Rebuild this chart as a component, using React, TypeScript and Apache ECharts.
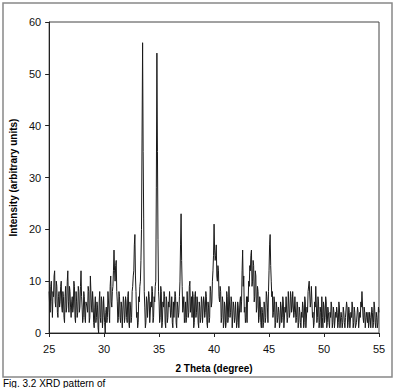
import React, { useEffect, useRef } from "react";
import * as echarts from "echarts";

// 2θ scan: 25.00° to 55.00°, step 0.05° (one line per degree)
const thetaStart = 25;
const thetaStep = 0.05;
const intensity25to30 = [
  8, 5, 4, 9, 10, 6, 3, 8, 7, 11, 12, 6, 5, 10, 9, 4, 3, 7, 8, 5,
  6, 9, 10, 5, 4, 8, 7, 3, 2, 7, 9, 4, 5, 10, 12, 6, 4, 9, 8, 5,
  3, 6, 7, 4, 5, 10, 9, 3, 2, 8, 6, 3, 4, 9, 8, 4, 5, 9, 12, 7,
  5, 2, 3, 8, 7, 3, 2, 6, 6, 5, 4, 9, 8, 2, 3, 11, 11, 5, 4, 8,
  6, 2, 1, 5, 7, 2, 3, 6, 5, 1, 0, 6, 8, 3, 2, 7, 6, 1, 3, 7,
];
const intensity30to35 = [
  7, 2, 0, 4, 5, 2, 3, 8, 8, 4, 2, 9, 11, 6, 5, 8, 9, 12, 16, 12,
  10, 13, 14, 8, 6, 2, 3, 8, 7, 3, 2, 6, 5, 1, 1, 7, 6, 2, 3, 7,
  6, 3, 2, 7, 8, 2, 1, 6, 5, 2, 3, 8, 9, 11, 12, 17, 19, 11, 8, 3,
  4, 1, 2, 7, 6, 9, 10, 14, 20, 38, 56, 35, 22, 8, 5, 1, 2, 7, 6, 3,
  3, 8, 7, 2, 2, 6, 5, 9, 8, 2, 3, 7, 6, 9, 10, 28, 54, 35, 18, 8,
];
const intensity35to40 = [
  6, 2, 3, 9, 8, 1, 2, 6, 5, 8, 7, 2, 1, 7, 6, 2, 3, 6, 5, 8,
  8, 3, 4, 7, 2, 1, 6, 3, 3, 8, 7, 2, 1, 6, 5, 3, 4, 7, 10, 17,
  23, 14, 9, 4, 5, 7, 2, 3, 6, 2, 3, 8, 8, 3, 4, 9, 10, 4, 5, 7,
  3, 8, 7, 1, 2, 7, 8, 3, 4, 7, 6, 2, 1, 6, 5, 2, 3, 7, 6, 2,
  2, 7, 6, 3, 4, 8, 7, 2, 1, 6, 5, 2, 3, 9, 8, 5, 6, 10, 12, 15,
];
const intensity40to45 = [
  21, 16, 14, 15, 17, 11, 10, 13, 12, 7, 6, 9, 8, 2, 3, 7, 6, 1, 2, 6,
  5, 1, 2, 8, 7, 2, 3, 9, 9, 3, 4, 7, 6, 1, 1, 6, 5, 2, 3, 6,
  6, 1, 2, 6, 5, 1, 1, 6, 7, 4, 6, 12, 16, 9, 11, 4, 5, 2, 3, 7,
  2, 7, 6, 10, 9, 13, 12, 15, 16, 9, 10, 14, 13, 6, 7, 12, 11, 4, 5, 9,
  8, 2, 3, 7, 6, 2, 1, 5, 4, 1, 2, 6, 5, 2, 3, 8, 7, 5, 2, 8,
];
const intensity45to50 = [
  12, 17, 19, 13, 10, 7, 8, 3, 4, 7, 6, 1, 2, 6, 5, 2, 3, 5, 4, 1,
  2, 6, 5, 2, 3, 7, 6, 1, 1, 5, 4, 7, 7, 2, 3, 8, 8, 3, 4, 8,
  7, 4, 5, 8, 8, 3, 4, 7, 7, 2, 3, 6, 5, 1, 2, 5, 4, 2, 1, 4,
  3, 6, 5, 1, 2, 7, 6, 1, 1, 5, 4, 8, 8, 10, 10, 5, 6, 9, 9, 3,
  4, 1, 2, 6, 5, 9, 9, 2, 3, 7, 6, 1, 2, 5, 4, 1, 7, 3, 1, 6,
];
const intensity50to55 = [
  5, 2, 3, 7, 6, 1, 2, 5, 4, 2, 1, 4, 3, 6, 5, 1, 2, 5, 4, 1,
  1, 4, 3, 5, 4, 1, 2, 6, 5, 1, 1, 4, 3, 1, 2, 5, 4, 2, 1, 3,
  3, 6, 5, 1, 2, 5, 4, 1, 1, 4, 3, 6, 5, 1, 2, 5, 4, 1, 1, 2,
  2, 5, 4, 1, 1, 4, 3, 6, 5, 8, 8, 3, 2, 5, 4, 1, 1, 4, 3, 2,
  4, 1, 2, 4, 3, 1, 1, 5, 4, 1, 2, 6, 5, 2, 1, 4, 3, 1, 2, 5,
  4,
];

const xTicks = [25, 30, 35, 40, 45, 50, 55];
const yTicks = [0, 10, 20, 30, 40, 50, 60];
const xName = "2 Theta (degree)";
const yName = "Intensity (arbitrary units)";
const caption = "Fig. 3.2 XRD pattern of";

export default function App() {
  const ref = useRef<HTMLDivElement>(null);
  useEffect(() => {
    if (!ref.current) return;
    const chart = echarts.init(ref.current, null, { renderer: "svg" });
    const intensities = [
      ...intensity25to30,
      ...intensity30to35,
      ...intensity35to40,
      ...intensity40to45,
      ...intensity45to50,
      ...intensity50to55,
    ];
    const data = intensities.map((v, i) => [
      +(thetaStart + i * thetaStep).toFixed(2),
      v,
    ]);
    const font = "Arial, 'Liberation Sans', sans-serif";
    chart.setOption({
      animation: false,
      backgroundColor: "#fff",
      grid: {
        left: 47,
        top: 22,
        right: 17,
        bottom: 55,
        show: true,
        borderColor: "#444",
        borderWidth: 1,
      },
      xAxis: {
        type: "value",
        min: xTicks[0],
        max: xTicks[xTicks.length - 1],
        interval: 5,
        name: xName,
        nameLocation: "middle",
        nameGap: 30,
        nameTextStyle: { fontFamily: font, fontSize: 10, fontWeight: "bold", color: "#000" },
        axisLine: { onZero: false, lineStyle: { color: "#222", width: 1 } },
        axisTick: { show: true, inside: false, length: 4, lineStyle: { color: "#222" } },
        axisLabel: { fontFamily: font, fontSize: 11, color: "#111", margin: 10 },
        splitLine: { show: false },
      },
      yAxis: {
        type: "value",
        min: yTicks[0],
        max: yTicks[yTicks.length - 1],
        interval: 10,
        name: yName,
        nameLocation: "middle",
        nameGap: 26,
        nameTextStyle: { fontFamily: font, fontSize: 10, fontWeight: "bold", color: "#000" },
        axisLine: { show: true, lineStyle: { color: "#222", width: 1 } },
        axisTick: { show: true, inside: false, length: 4, lineStyle: { color: "#222" } },
        axisLabel: { fontFamily: font, fontSize: 11, color: "#111", margin: 8 },
        splitLine: { show: false },
      },
      series: [
        {
          type: "line",
          data,
          showSymbol: false,
          symbol: "none",
          lineStyle: { color: "#1a1a1a", width: 1 },
          z: 3,
        },
      ],
      graphic: [
        {
          type: "rect",
          shape: { x: 3, y: 3, width: 389, height: 374 },
          style: { fill: "none", stroke: "#888", lineWidth: 1.5 },
          silent: true,
        },
        {
          type: "text",
          left: 3,
          top: 378,
          style: { text: caption, fontFamily: font, fontSize: 10, fill: "#000" },
          silent: true,
        },
      ],
    });
    return () => chart.dispose();
  }, []);
  return (
    <div
      ref={ref}
      style={{ position: "fixed", left: 0, top: 0, width: 396, height: 388 }}
    />
  );
}
